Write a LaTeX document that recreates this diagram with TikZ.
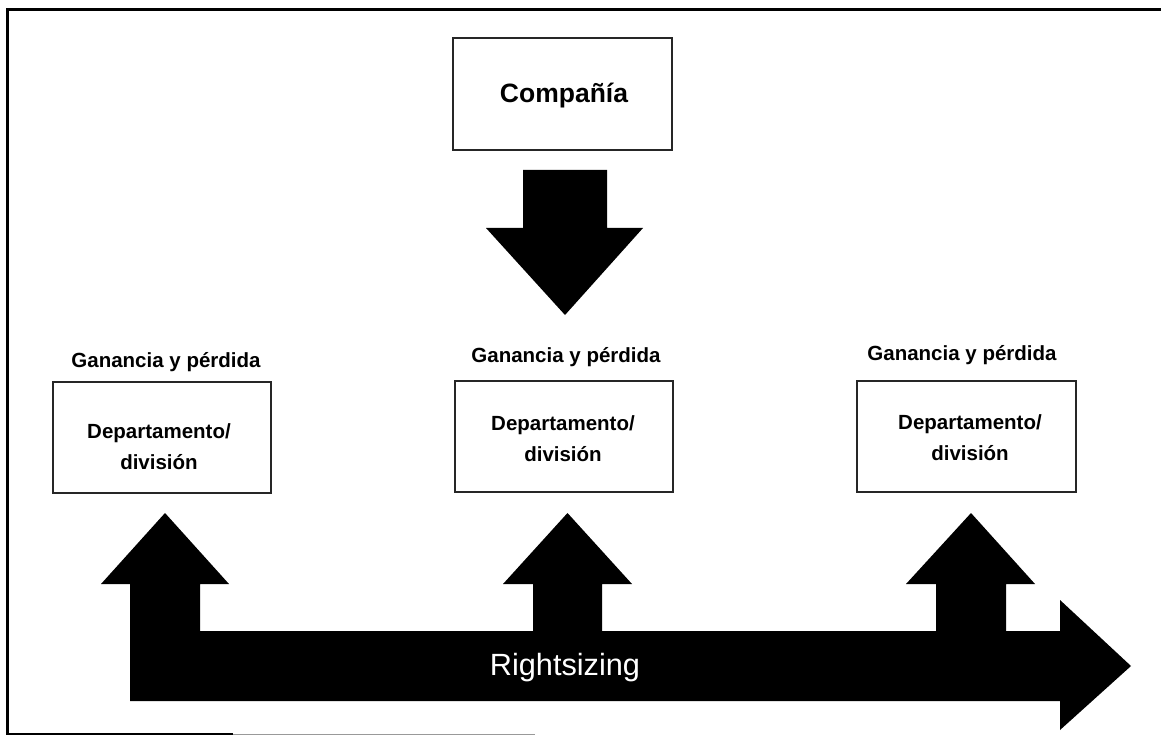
\documentclass[tikz,border=0pt]{standalone}
\usepackage{fontspec}
\setmainfont{Liberation Sans}
\begin{document}
\begin{tikzpicture}[x=1pt,y=-1pt,
  unitbox/.style={draw=black!85,line width=1.6pt,minimum width=218pt,minimum height=111pt,inner sep=0pt},
  boxtext/.style={align=center,inner sep=0pt,font=\fontsize{20.5}{31}\selectfont\bfseries},
  pltext/.style={inner sep=0pt,font=\fontsize{20.5}{24}\selectfont\bfseries},
  bigarrow/.style={fill=black,draw=none}]
\useasboundingbox (0,0) rectangle (1161,735);

% page frame (open on the right)
\draw[line width=3pt,black] (1161,10) -- (7,10) -- (7,734) -- (233,734);
\draw[line width=1pt,black!40] (233,734) -- (535,734);

% company box and the downward arrow
\node[unitbox,minimum width=219pt,minimum height=112pt] (comp) at (562.5,94) {};
\node[inner sep=0pt,font=\fontsize{26.5}{30}\selectfont\bfseries] (compt) at (564,96) {Compañía};
\fill[bigarrow] (523,170) -- (607,170) -- (607,228) -- (643,228) -- (565,315)
  -- (486,228) -- (523,228) -- cycle;

% departments with profit and loss
\node[unitbox] (dl) at (162,437.5) {};
\node[unitbox] (dm) at (564,436.5) {};
\node[unitbox,minimum width=219pt] (dr) at (966.5,436.5) {};
\node[pltext] (pll) at (166,362) {Ganancia y pérdida};
\node[pltext] (plm) at (566,357) {Ganancia y pérdida};
\node[pltext] (plr) at (962,355) {Ganancia y pérdida};
\node[boxtext] (tl) at (159,447) {Departamento/\\división};
\node[boxtext] (tm) at (563,439) {Departamento/\\división};
\node[boxtext] (tr) at (970,437.5) {Departamento/\\división};

% rightsizing arrow with three upward branches
\fill[bigarrow] (130,701) -- (130,584) -- (101,584) -- (165,513) -- (229,584)
  -- (200,584) -- (200,631) -- (533,631) -- (533,584) -- (503,584)
  -- (567.5,513) -- (632,584) -- (602,584) -- (602,631) -- (936,631)
  -- (936,584) -- (906,584) -- (971,513) -- (1035,584) -- (1006,584)
  -- (1006,631) -- (1060,631) -- (1060,600) -- (1131,666) -- (1060,730)
  -- (1060,701) -- cycle;
\node[text=white,inner sep=0pt,font=\fontsize{30.7}{34}\selectfont] (rs) at (565,668) {Rightsizing};
\end{tikzpicture}
\end{document}
